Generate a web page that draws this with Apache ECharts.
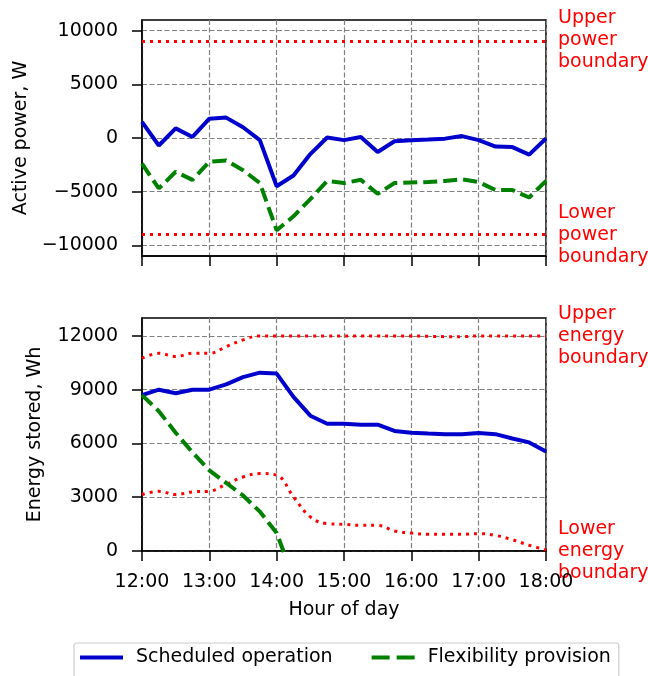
<!DOCTYPE html>
<html>
<head>
<meta charset="utf-8">
<script src="https://cdn.jsdelivr.net/npm/echarts@6/dist/echarts.min.js"></script>
<style>
  html, body { margin: 0; padding: 0; background: #fff; }
  #main { width: 648px; height: 676px; }
</style>
</head>
<body>
<div id="main"></div>
<script>
var times = ['12:00','12:15','12:30','12:45','13:00','13:15','13:30','13:45',
  '14:00','14:15','14:30','14:45','15:00','15:15','15:30','15:45',
  '16:00','16:15','16:30','16:45','17:00','17:15','17:30','17:45','18:00'];

// active power, W
var schedPower = [1500, -700, 900, 100, 1800, 1900, 1000, -200,
  -4500, -3500, -1500, 50, -200, 100, -1300, -300,
  -200, -150, -60, 180, -200, -800, -850, -1550, -50];
var flexPower = [-2400, -4700, -3150, -3900, -2200, -2100, -3000, -4200,
  -8600, -7300, -5700, -4000, -4200, -3900, -5200, -4200,
  -4150, -4100, -4000, -3850, -4100, -4850, -4850, -5550, -4000];
var upperPower = [9000, 9000, 9000, 9000, 9000, 9000, 9000, 9000,
  9000, 9000, 9000, 9000, 9000, 9000, 9000, 9000,
  9000, 9000, 9000, 9000, 9000, 9000, 9000, 9000, 9000];
var lowerPower = [-9000, -9000, -9000, -9000, -9000, -9000, -9000, -9000,
  -9000, -9000, -9000, -9000, -9000, -9000, -9000, -9000,
  -9000, -9000, -9000, -9000, -9000, -9000, -9000, -9000, -9000];

// energy stored, Wh
var schedEnergy = [8700, 9000, 8800, 9000, 9000, 9300, 9700, 9950,
  9900, 8600, 7550, 7100, 7100, 7050, 7050, 6700,
  6600, 6550, 6520, 6520, 6580, 6520, 6280, 6060, 5550];
var flexEnergy = [8700, 7800, 6600, 5500, 4500, 3800, 3100, 2200,
  1000, -1500];
var upperEnergy = [10750, 11030, 10850, 11030, 11030, 11400, 11780, 12000,
  12000, 12000, 12000, 12000, 12000, 12000, 12000, 12000,
  12000, 11980, 11960, 11960, 12000, 12000, 12000, 12000, 12000];
var lowerEnergy = [3150, 3330, 3150, 3300, 3330, 3720, 4130, 4320,
  4230, 3020, 1900, 1530, 1490, 1430, 1430, 1120,
  1000, 930, 930, 930, 970, 870, 630, 320, 60];

var powerTicks = [-10000, -5000, 0, 5000, 10000];
var energyTicks = [0, 3000, 6000, 9000, 12000];

var FONT = 'DejaVu Sans';
var FS = 19;
var gridLineStyle = { color: '#808080', width: 1.2, type: [5, 2.5] };
var blackLine = { color: '#000', width: 1.5 };

function minus(v) {
  return v < 0 ? '\u2212' + Math.abs(v) : String(v);
}

var chart = echarts.init(document.getElementById('main'));
var option = {
  animation: false,
  backgroundColor: '#fff',
  textStyle: { fontFamily: FONT },
  grid: [
    { left: 142, top: 20, width: 404, height: 236, show: true, borderColor: '#000', borderWidth: 1.5 },
    { left: 142, top: 318, width: 404, height: 233, show: true, borderColor: '#000', borderWidth: 1.5 }
  ],
  legend: {
    data: [
      { name: 'Scheduled operation', icon: 'path://M0,0h43v4h-43z' },
      { name: 'Flexibility provision', icon: 'path://M0,0h18v4h-18zM25,0h18v4h-18z' }
    ],
    left: 74,
    top: 643,
    padding: [5, 8, 14, 6],
    itemWidth: 43,
    itemHeight: 4,
    itemGap: 39,
    borderColor: '#cccccc',
    borderWidth: 1.2,
    borderRadius: 3,
    textStyle: { fontFamily: FONT, fontSize: FS, color: '#000', padding: [0, 0, 0, 8] }
  },
  xAxis: [
    {
      type: 'category', gridIndex: 0, data: times, boundaryGap: false,
      axisLine: { show: true, onZero: false, lineStyle: blackLine },
      axisTick: { show: true, interval: 3, length: 10, lineStyle: blackLine },
      axisLabel: { show: false, interval: 3 },
      splitLine: { show: true, interval: 3, lineStyle: gridLineStyle }
    },
    {
      type: 'category', gridIndex: 1, data: times, boundaryGap: false,
      name: 'Hour of day', nameLocation: 'middle', nameGap: 50,
      nameTextStyle: { fontFamily: FONT, fontSize: FS, color: '#000' },
      axisLine: { show: true, onZero: false, lineStyle: blackLine },
      axisTick: { show: true, interval: 3, length: 10, lineStyle: blackLine },
      axisLabel: { show: true, interval: 3, margin: 22, fontFamily: FONT, fontSize: FS, color: '#000' },
      splitLine: { show: true, interval: 3, lineStyle: gridLineStyle }
    }
  ],
  yAxis: [
    {
      type: 'value', gridIndex: 0, min: -11000, max: 11000,
      name: 'Active power, W', nameLocation: 'middle', nameGap: 111,
      nameTextStyle: { fontFamily: FONT, fontSize: FS, color: '#000' },
      axisLine: { show: true, lineStyle: blackLine },
      axisTick: { show: true, length: 10, customValues: powerTicks, lineStyle: blackLine },
      axisLabel: { margin: 24, customValues: powerTicks, formatter: minus, fontFamily: FONT, fontSize: FS, color: '#000' },
      splitLine: { show: true, lineStyle: gridLineStyle }
    },
    {
      type: 'value', gridIndex: 1, min: 0, max: 13000, interval: 3000,
      name: 'Energy stored, Wh', nameLocation: 'middle', nameGap: 97,
      nameTextStyle: { fontFamily: FONT, fontSize: FS, color: '#000' },
      axisLine: { show: true, lineStyle: blackLine },
      axisTick: { show: true, length: 10, customValues: energyTicks, lineStyle: blackLine },
      axisLabel: { margin: 24, customValues: energyTicks, formatter: minus, fontFamily: FONT, fontSize: FS, color: '#000' },
      splitLine: { show: true, lineStyle: gridLineStyle }
    }
  ],
  series: [
    { name: 'upper power', type: 'line', xAxisIndex: 0, yAxisIndex: 0, data: upperPower,
      symbol: 'none', lineStyle: { color: '#ff0000', width: 3, type: [3, 5], cap: 'butt' } },
    { name: 'lower power', type: 'line', xAxisIndex: 0, yAxisIndex: 0, data: lowerPower,
      symbol: 'none', lineStyle: { color: '#ff0000', width: 3, type: [3, 5], cap: 'butt' } },
    { name: 'Scheduled operation', type: 'line', xAxisIndex: 0, yAxisIndex: 0, data: schedPower,
      symbol: 'none', color: '#0000cd', lineStyle: { color: '#0000cd', width: 4 } },
    { name: 'Flexibility provision', type: 'line', xAxisIndex: 0, yAxisIndex: 0, data: flexPower,
      symbol: 'none', color: '#008000', lineStyle: { color: '#008000', width: 4, type: [14, 6] } },

    { name: 'upper energy', type: 'line', xAxisIndex: 1, yAxisIndex: 1, data: upperEnergy,
      symbol: 'none', smooth: 0.4, lineStyle: { color: '#ff0000', width: 3, type: [3, 5], cap: 'butt' } },
    { name: 'lower energy', type: 'line', xAxisIndex: 1, yAxisIndex: 1, data: lowerEnergy,
      symbol: 'none', smooth: 0.4, lineStyle: { color: '#ff0000', width: 3, type: [3, 5], cap: 'butt' } },
    { name: 'Scheduled operation', type: 'line', xAxisIndex: 1, yAxisIndex: 1, data: schedEnergy,
      symbol: 'none', color: '#0000cd', lineStyle: { color: '#0000cd', width: 4 } },
    { name: 'Flexibility provision', type: 'line', xAxisIndex: 1, yAxisIndex: 1, data: flexEnergy,
      symbol: 'none', color: '#008000', lineStyle: { color: '#008000', width: 4, type: [14, 6] } }
  ],
  graphic: [
    { type: 'text', left: 558, top: 7, style: { text: 'Upper\npower\nboundary', fill: '#ff0000', fontFamily: FONT, fontSize: FS, lineHeight: 22 } },
    { type: 'text', left: 558, top: 202, style: { text: 'Lower\npower\nboundary', fill: '#ff0000', fontFamily: FONT, fontSize: FS, lineHeight: 22 } },
    { type: 'text', left: 558, top: 303, style: { text: 'Upper\nenergy\nboundary', fill: '#ff0000', fontFamily: FONT, fontSize: FS, lineHeight: 22 } },
    { type: 'text', left: 558, top: 518, style: { text: 'Lower\nenergy\nboundary', fill: '#ff0000', fontFamily: FONT, fontSize: FS, lineHeight: 22 } }
  ]
};
chart.setOption(option);
</script>
</body>
</html>
